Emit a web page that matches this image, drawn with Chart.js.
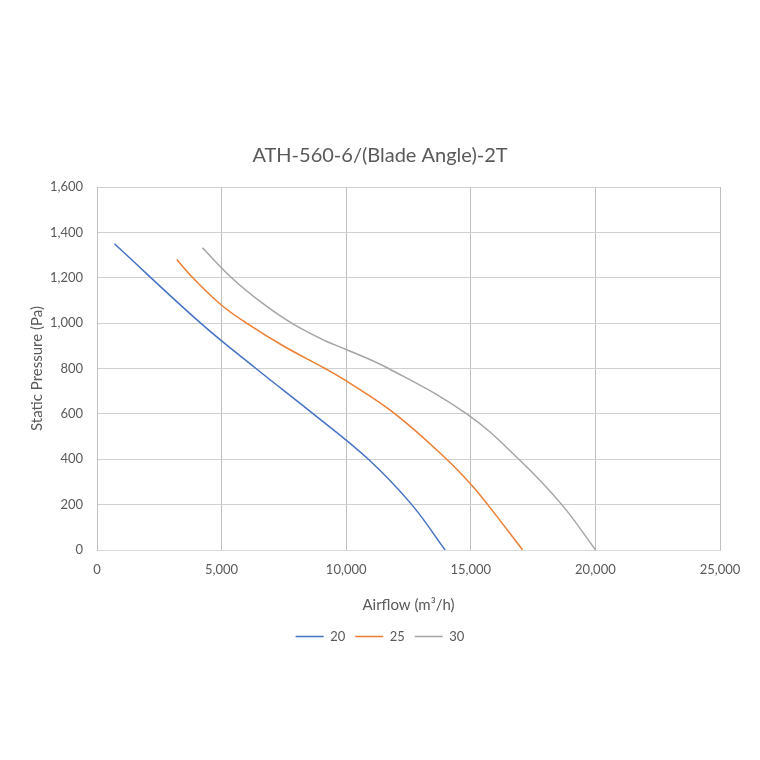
<!DOCTYPE html>
<html>
<head>
<meta charset="utf-8">
<script src="https://cdn.jsdelivr.net/npm/chart.js@4.4.1/dist/chart.umd.min.js"></script>
<style>
    html, body { margin: 0; padding: 0; background: #fff; }
    #wrap { width: 760px; height: 760px; }
</style>
</head>
<body>
<div id="wrap"><canvas id="fanChart" width="760" height="760"></canvas></div>
<script>
    // Blade angles (series labels)
    const bladeAngles = ['20', '25', '30'];

    // Airflow (m3/h) and static pressure (Pa)
    const flow20 = [700, 4160, 6380, 8680, 10890, 12630, 13970];
    const pres20 = [1350, 1000, 800, 600, 400, 200, 0];

    const flow25 = [3200, 3930, 5000, 6000, 7500, 9150, 10000, 11960, 14030, 15000, 15680, 17080];
    const pres25 = [1280, 1190, 1079, 1000, 898, 800, 745, 600, 400, 290, 200, 0];

    const flow30 = [4230, 5400, 6610, 7810, 9200, 10000, 11700, 14835, 16930, 18650, 20010];
    const pres30 = [1332, 1200, 1090, 1000, 920, 884, 800, 600, 400, 200, 0];

    const xTicks = [0, 5000, 10000, 15000, 20000, 25000];
    const yTicks = [0, 200, 400, 600, 800, 1000, 1200, 1400, 1600];

    const lineColors = ['#4472C4', '#ED7D31', '#A5A5A5'];
    const textColor = '#595959';
    const fontFamily = 'Lato, "Open Sans", sans-serif';

    function toPoints(xs, ys) {
        return xs.map((x, i) => ({ x, y: ys[i] }));
    }

    const seriesData = [toPoints(flow20, pres20), toPoints(flow25, pres25), toPoints(flow30, pres30)];

    new Chart(document.getElementById('fanChart'), {
        type: 'scatter',
        data: {
            datasets: bladeAngles.map((name, i) => ({
                label: name,
                data: seriesData[i],
                showLine: true,
                borderColor: lineColors[i],
                backgroundColor: lineColors[i],
                borderWidth: 1.5,
                pointRadius: 0,
                tension: 0.4
            }))
        },
        options: {
            responsive: false,
            animation: false,
            layout: { padding: { top: 144, left: 40, right: 40, bottom: 107 } },
            plugins: {
                title: {
                    display: true,
                    text: 'ATH-560-6/(Blade Angle)-2T',
                    color: textColor,
                    font: { family: fontFamily, size: 20, weight: 'normal' },
                    padding: { top: 0, bottom: 19 }
                },
                legend: {
                    position: 'bottom',
                    labels: {
                        usePointStyle: true,
                        pointStyle: 'line',
                        pointStyleWidth: 28,
                        color: textColor,
                        font: { family: fontFamily, size: 13 },
                        padding: 10
                    }
                },
                tooltip: { enabled: false }
            },
            scales: {
                x: {
                    type: 'linear',
                    min: xTicks[0],
                    max: xTicks[xTicks.length - 1],
                    afterBuildTicks: axis => { axis.ticks = xTicks.map(v => ({ value: v })); },
                    afterFit: axis => { axis.height = 70; },
                    ticks: {
                        color: textColor,
                        font: { family: fontFamily, size: 13 },
                        padding: 12,
                        maxRotation: 0,
                        callback: v => v.toLocaleString('en-US')
                    },
                    grid: { color: '#bfbfbf', drawTicks: false },
                    border: { color: '#d9d9d9', width: 1 },
                    title: {
                        display: true,
                        text: 'Airflow (m³/h)',
                        color: textColor,
                        font: { family: fontFamily, size: 15 },
                        padding: { top: 0, bottom: 6 }
                    }
                },
                y: {
                    type: 'linear',
                    min: yTicks[0],
                    max: yTicks[yTicks.length - 1],
                    afterBuildTicks: axis => { axis.ticks = yTicks.map(v => ({ value: v })); },
                    afterFit: axis => { axis.width = 57; },
                    ticks: {
                        color: textColor,
                        font: { family: fontFamily, size: 13 },
                        padding: 14,
                        callback: v => v.toLocaleString('en-US')
                    },
                    grid: { color: '#d0d0d0', drawTicks: false },
                    border: { color: '#bfbfbf', width: 1 },
                    title: {
                        display: true,
                        text: 'Static Pressure (Pa)',
                        color: textColor,
                        font: { family: fontFamily, size: 15 },
                        padding: { top: -12, bottom: 0 }
                    }
                }
            }
        }
    });
</script>
</body>
</html>
